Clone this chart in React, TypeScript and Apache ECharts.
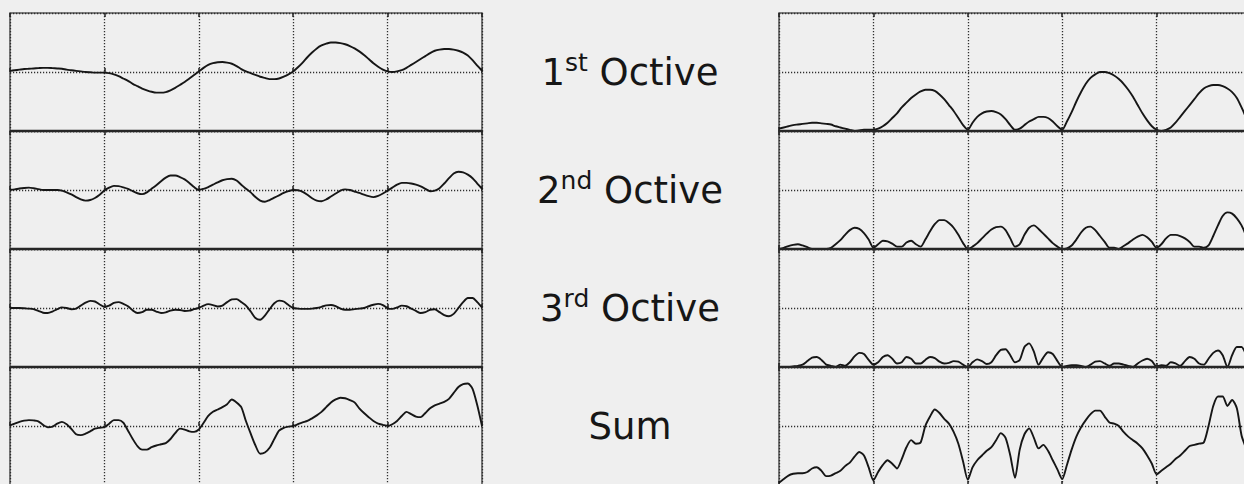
import React, { useEffect, useRef } from "react";
import * as echarts from "echarts";

// x positions (5 grid divisions, step 0.05)
const X_COUNT = 101;
const X_STEP = 0.05;
const xs: number[] = Array.from({ length: X_COUNT }, (_, i) => +(i * X_STEP).toFixed(2));

const octave1 = [
  0.02, 0.03, 0.04, 0.05, 0.055, 0.06, 0.065, 0.07, 0.07, 0.065,
  0.06, 0.055, 0.04, 0.03, 0.02, 0.01, 0.0, -0.005, -0.01, -0.01,
  -0.01, -0.02, -0.04, -0.07, -0.11, -0.15, -0.2, -0.24, -0.28, -0.31,
  -0.335, -0.35, -0.35, -0.34, -0.31, -0.27, -0.22, -0.17, -0.11, -0.05,
  0.01, 0.07, 0.12, 0.15, 0.165, 0.17, 0.16, 0.14, 0.1, 0.05,
  0.01, -0.02, -0.05, -0.08, -0.1, -0.12, -0.12, -0.11, -0.08, -0.04,
  0.01, 0.08, 0.16, 0.25, 0.33, 0.4, 0.45, 0.48, 0.5, 0.5,
  0.49, 0.47, 0.44, 0.4, 0.35, 0.29, 0.22, 0.15, 0.09, 0.04,
  0.01, 0.0, 0.01, 0.03, 0.07, 0.12, 0.17, 0.22, 0.27, 0.32,
  0.36, 0.38, 0.39, 0.39, 0.38, 0.36, 0.33, 0.28, 0.2, 0.11,
  0.02,
];

const octave2 = [
  0, 0.01, 0.025, 0.035, 0.04, 0.03, 0.015, 0, 0, 0,
  0, -0.01, -0.04, -0.075, -0.12, -0.16, -0.18, -0.17, -0.135, -0.08,
  -0.01, 0.04, 0.07, 0.065, 0.045, 0.02, -0.02, -0.055, -0.07, -0.04,
  0.02, 0.08, 0.15, 0.21, 0.245, 0.245, 0.22, 0.18, 0.12, 0.05,
  0.0, 0.02, 0.05, 0.09, 0.13, 0.165, 0.185, 0.19, 0.16, 0.09,
  0.02, -0.04, -0.12, -0.18, -0.2, -0.17, -0.13, -0.09, -0.05, -0.02,
  0.0, -0.005, -0.03, -0.08, -0.14, -0.18, -0.19, -0.16, -0.11, -0.06,
  -0.01, 0.01, 0.0, -0.025, -0.05, -0.08, -0.105, -0.12, -0.1, -0.06,
  -0.01, 0.04, 0.09, 0.12, 0.12, 0.11, 0.09, 0.06, 0.02, -0.02,
  -0.01, 0.03, 0.11, 0.2, 0.28, 0.31, 0.3, 0.26, 0.2, 0.11,
  0.02,
];

const octave3 = [
  0, 0, 0, -0.005, -0.01, -0.02, -0.05, -0.08, -0.085, -0.06,
  -0.02, 0.01, 0, -0.02, -0.01, 0.04, 0.09, 0.12, 0.11, 0.06,
  0.02, 0.04, 0.085, 0.1, 0.07, 0.03, -0.04, -0.085, -0.07, -0.03,
  -0.03, -0.06, -0.085, -0.075, -0.045, -0.03, -0.035, -0.05, -0.045, -0.02,
  0.0, 0.04, 0.065, 0.05, 0.025, 0.04, 0.1, 0.145, 0.15, 0.1,
  0.04, -0.06, -0.17, -0.2, -0.13, -0.02, 0.08, 0.125, 0.11, 0.05,
  0, -0.01, -0.015, -0.015, -0.01, 0, 0.02, 0.045, 0.05, 0.03,
  -0.01, -0.03, -0.03, -0.02, -0.01, 0, 0.03, 0.055, 0.07, 0.05,
  -0.005, -0.015, 0.01, 0.04, 0.03, -0.01, -0.05, -0.085, -0.07, -0.03,
  -0.02, -0.07, -0.12, -0.14, -0.1, 0, 0.1, 0.17, 0.17, 0.1,
  0.01,
];

const sumSigned = [
  0.01, 0.04, 0.07, 0.09, 0.1, 0.095, 0.08, 0.02, -0.02, -0.01,
  0.04, 0.07, 0.03, -0.05, -0.14, -0.155, -0.13, -0.09, -0.045, -0.03,
  -0.02, 0.04, 0.1, 0.1, 0.056, -0.08, -0.22, -0.34, -0.4, -0.4,
  -0.36, -0.33, -0.31, -0.29, -0.22, -0.12, -0.045, -0.06, -0.09, -0.1,
  -0.06, 0.05, 0.17, 0.24, 0.28, 0.32, 0.37, 0.45, 0.4, 0.32,
  0.08, -0.13, -0.33, -0.47, -0.45, -0.37, -0.22, -0.08, -0.03, -0.01,
  0, 0.03, 0.06, 0.085, 0.13, 0.18, 0.24, 0.32, 0.4, 0.45,
  0.48, 0.47, 0.44, 0.4, 0.3, 0.22, 0.15, 0.085, 0.04, 0.02,
  0, 0.03, 0.085, 0.17, 0.24, 0.2, 0.16, 0.15, 0.22, 0.3,
  0.35, 0.38, 0.41, 0.46, 0.56, 0.66, 0.71, 0.72, 0.63, 0.35,
  0,
];

const sumAbs = [
  0.02, 0.05, 0.08, 0.095, 0.1, 0.1, 0.11, 0.14, 0.15, 0.12,
  0.075, 0.08, 0.1, 0.12, 0.16, 0.19, 0.24, 0.28, 0.25, 0.15,
  0.04, 0.11, 0.17, 0.21, 0.18, 0.14, 0.22, 0.32, 0.38, 0.35,
  0.36, 0.5, 0.58, 0.64, 0.61, 0.56, 0.52, 0.45, 0.35, 0.2,
  0.045, 0.15, 0.21, 0.25, 0.29, 0.32, 0.38, 0.44, 0.4, 0.25,
  0.06, 0.3, 0.43, 0.48, 0.4, 0.31, 0.34, 0.29, 0.21, 0.13,
  0.05, 0.17, 0.3, 0.41, 0.49, 0.55, 0.6, 0.63, 0.63, 0.58,
  0.53, 0.52, 0.5, 0.45, 0.41, 0.38, 0.35, 0.31, 0.25, 0.18,
  0.09, 0.12, 0.15, 0.18, 0.22, 0.25, 0.29, 0.33, 0.34, 0.35,
  0.36, 0.5, 0.67, 0.75, 0.75, 0.67, 0.72, 0.65, 0.42, 0.3,
  0.05,
];

const rowLabels = [
  { base: "1", sup: "st", rest: " Octive" },
  { base: "2", sup: "nd", rest: " Octive" },
  { base: "3", sup: "rd", rest: " Octive" },
  { base: "Sum", sup: "", rest: "" },
];

const BG = "#efefef";
const INK = "#161616";
const FONT = "DejaVu Sans";

const LEFT_X = 10;
const RIGHT_X = 779;
const PANEL_W = 472;
const TOP_Y = 13;
const PANEL_H = 118;
const LABEL_X = 630;

export default function App() {
  const ref = useRef<HTMLDivElement>(null);

  useEffect(() => {
    document.body.style.margin = "0";
    document.body.style.overflow = "hidden";
    document.body.style.background = BG;
    if (!ref.current) return;
    const chart = echarts.init(ref.current, undefined, { renderer: "svg" });

    const leftData = [octave1, octave2, octave3, sumSigned];
    const rightData = [
      octave1.map((v) => Math.abs(v)),
      octave2.map((v) => Math.abs(v)),
      octave3.map((v) => Math.abs(v)),
      sumAbs,
    ];

    const grids: any[] = [];
    const xAxes: any[] = [];
    const yAxes: any[] = [];
    const series: any[] = [];

    const dotted = { type: [1.2, 1.8], color: "#2e2e2e", width: 1.3 };
    const tick = { show: true, inside: true, length: 4, lineStyle: { color: "#222", width: 1.5 } };

    for (let side = 0; side < 2; side++) {
      for (let r = 0; r < 4; r++) {
        const gi = grids.length;
        grids.push({
          left: side === 0 ? LEFT_X : RIGHT_X,
          top: TOP_Y + r * PANEL_H,
          width: PANEL_W,
          height: PANEL_H,
          show: true,
          borderColor: "#5a5a5a",
          borderWidth: 1.6,
          backgroundColor: "transparent",
        });
        xAxes.push({
          type: "value",
          gridIndex: gi,
          min: 0,
          max: 5,
          interval: 1,
          axisLine: { show: false },
          axisLabel: { show: false },
          axisTick: tick,
          splitLine: { show: true, lineStyle: dotted },
        });
        xAxes.push({
          type: "value",
          gridIndex: gi,
          position: "top",
          min: 0,
          max: 5,
          interval: 1,
          axisLine: { show: false },
          axisLabel: { show: false },
          axisTick: tick,
          splitLine: { show: false },
        });
        yAxes.push({
          type: "value",
          gridIndex: gi,
          min: side === 0 ? -1 : 0,
          max: 1,
          interval: side === 0 ? 1 : 0.5,
          axisLine: { show: false },
          axisLabel: { show: false },
          axisTick: { show: false },
          splitLine: { show: true, lineStyle: dotted },
        });
        const vals = side === 0 ? leftData[r] : rightData[r];
        series.push({
          type: "line",
          xAxisIndex: gi * 2,
          yAxisIndex: gi,
          data: xs.map((x, i) => [x, vals[i]]),
          showSymbol: false,
          smooth: 0.25,
          clip: true,
          lineStyle: { color: INK, width: 1.9 },
          silent: true,
        });
      }
    }

    const graphics: any[] = [];
    for (let r = 1; r < 4; r++) {
      const y = TOP_Y + r * PANEL_H;
      [LEFT_X, RIGHT_X].forEach((x0) => {
        graphics.push({
          type: "line",
          shape: { x1: x0, y1: y, x2: x0 + PANEL_W, y2: y },
          style: { stroke: "#262626", lineWidth: 2.6 },
          silent: true,
          z: 100,
        });
      });
    }
    rowLabels.forEach((lab, r) => {
      const text = lab.sup
        ? `{n|${lab.base}}{s|${lab.sup}}{n|${lab.rest}}`
        : `{n|${lab.base}}`;
      graphics.push({
        type: "text",
        x: LABEL_X,
        y: TOP_Y + r * PANEL_H + PANEL_H / 2,
        silent: true,
        style: {
          text,
          align: "center",
          verticalAlign: "middle",
          rich: {
            n: { fontSize: 37, fontFamily: FONT, fill: INK, lineHeight: 44 },
            s: { fontSize: 25, fontFamily: FONT, fill: INK, verticalAlign: "top", lineHeight: 28 },
          },
        },
      });
    });

    chart.setOption({
      animation: false,
      backgroundColor: BG,
      grid: grids,
      xAxis: xAxes,
      yAxis: yAxes,
      series,
      graphic: graphics,
    });

    return () => chart.dispose();
  }, []);

  return (
    <div
      ref={ref}
      style={{ position: "fixed", left: 0, top: 0, width: 1260, height: 500, background: BG }}
    />
  );
}
